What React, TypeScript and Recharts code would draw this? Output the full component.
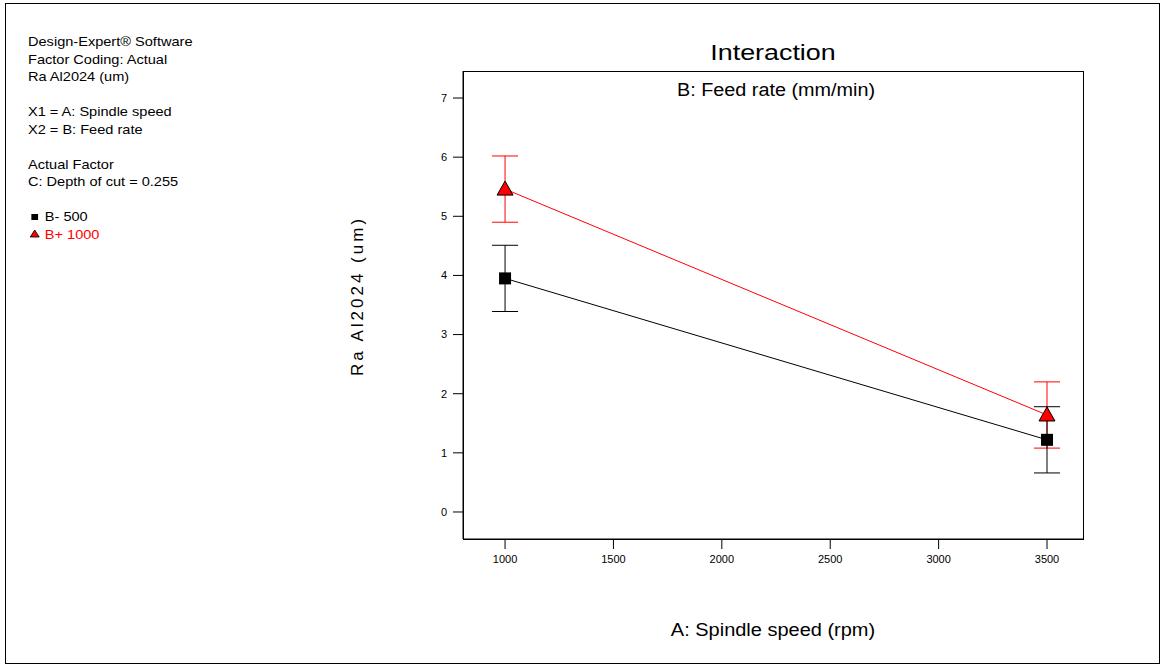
import React from 'react'
import { ComposedChart, Line, XAxis, YAxis, ErrorBar } from 'recharts'

// spindle speed (rpm)
const speeds = [1000, 3500]
// Ra Al2024 predictions for the two feed levels
const lowFeed = [3.95, 1.22]
const highFeed = [5.46, 1.64]
const lowErr = [0.56, 0.56]
const highErr = [0.56, 0.56]
const xTicks = [1000, 1500, 2000, 2500, 3000, 3500]
const yTicks = [0, 1, 2, 3, 4, 5, 6, 7]

const rows = speeds.map((s, i) => ({
  speed: s,
  low: lowFeed[i],
  high: highFeed[i],
  lowErr: lowErr[i],
  highErr: highErr[i],
}))

const font = '"Liberation Sans", Arial, sans-serif'

const Square = (props: any) => {
  const { cx, cy } = props
  return <rect x={cx - 6} y={cy - 6} width={12} height={12} fill="#000" />
}

const Triangle = (props: any) => {
  const { cx, cy } = props
  return <polygon points={`${cx},${cy - 8} ${cx - 8},${cy + 6} ${cx + 8},${cy + 6}`} fill="#ff0000" stroke="#000" strokeWidth={1} />
}

const abs = (l: number, t: number): React.CSSProperties => ({ position: 'absolute', left: l, top: t })

// centred text stretched a little wider, like the original export
const Centered = ({ cx, cy, size, sx, children }: any) => (
  <div
    style={{
      ...abs(cx, cy),
      transform: `translate(-50%, -50%) scaleX(${sx})`,
      whiteSpace: 'nowrap',
      fontSize: size,
      lineHeight: 1,
    }}
  >
    {children}
  </div>
)

const App = () => {
  return (
    <div style={{ position: 'absolute', left: 0, top: 0, width: 1164, height: 668, background: '#fff', fontFamily: font }}>
      <div style={{ ...abs(5, 3), width: 1155, height: 661, border: '1px solid #000', boxSizing: 'border-box' }} />

      <div style={{ ...abs(28, 33), fontSize: 13, lineHeight: '17.5px', color: '#000', transform: 'scaleX(1.12)', transformOrigin: 'left top' }}>
        <div>Design-Expert® Software</div>
        <div>Factor Coding: Actual</div>
        <div>Ra Al2024 (um)</div>
        <div>&nbsp;</div>
        <div>X1 = A: Spindle speed</div>
        <div>X2 = B: Feed rate</div>
        <div>&nbsp;</div>
        <div>Actual Factor</div>
        <div>C: Depth of cut = 0.255</div>
        <div>&nbsp;</div>
        <div style={{ display: 'flex', alignItems: 'center' }}>
          <svg width={11} height={12}><rect x={3} y={3} width={6} height={6} fill="#000" /></svg>
          <span style={{ marginLeft: 4 }}>B- 500</span>
        </div>
        <div style={{ display: 'flex', alignItems: 'center', color: '#ff0000' }}>
          <svg width={11} height={12}><polygon points="6,2 2,9 10,9" fill="#ff0000" stroke="#000" strokeWidth={0.8} /></svg>
          <span style={{ marginLeft: 4 }}>B+ 1000</span>
        </div>
      </div>

      <Centered cx={773} cy={53} size={22} sx={1.22}>Interaction</Centered>
      <Centered cx={776} cy={90} size={18} sx={1.1}>B: Feed rate (mm/min)</Centered>
      <Centered cx={773} cy={630} size={18} sx={1.11}>A: Spindle speed (rpm)</Centered>
      <div
        style={{
          ...abs(357, 296),
          transform: 'translate(-50%, -50%) rotate(-90deg)',
          whiteSpace: 'nowrap',
          fontSize: 17,
          letterSpacing: 3,
          lineHeight: 1,
        }}
      >
        Ra Al2024 (um)
      </div>

      <div style={{ ...abs(0, 0) }}>
        <ComposedChart width={1164} height={668} data={rows} margin={{ top: 71, right: 81, left: 423, bottom: 89 }}>
          <XAxis
            type="number"
            dataKey="speed"
            domain={[806, 3666]}
            ticks={xTicks}
            tickSize={10}
            axisLine={{ stroke: '#000' }}
            tickLine={{ stroke: '#000' }}
            tick={{ fill: '#000', fontSize: 11, fontFamily: font }}
            tickMargin={6}
            height={40}
            allowDataOverflow
          />
          <YAxis
            type="number"
            domain={[-0.457, 7.457]}
            ticks={yTicks}
            tickSize={10}
            axisLine={{ stroke: '#000' }}
            tickLine={{ stroke: '#000' }}
            tick={{ fill: '#000', fontSize: 11, fontFamily: font }}
            tickMargin={6}
            width={40}
            allowDataOverflow
          />
          <Line
            dataKey="high"
            stroke="#ff0000"
            strokeWidth={1}
            dot={<Triangle />}
            activeDot={false}
            isAnimationActive={false}
          >
            <ErrorBar dataKey="highErr" direction="y" width={13} stroke="#ff0000" strokeWidth={1} />
          </Line>
          <Line
            dataKey="low"
            stroke="#000"
            strokeWidth={1}
            dot={<Square />}
            activeDot={false}
            isAnimationActive={false}
          >
            <ErrorBar dataKey="lowErr" direction="y" width={13} stroke="#000" strokeWidth={1} />
          </Line>
        </ComposedChart>
      </div>

      <div style={{ ...abs(463, 71), width: 621, height: 469, border: '1px solid #000', boxSizing: 'border-box', pointerEvents: 'none' }} />
    </div>
  )
}

export default App
